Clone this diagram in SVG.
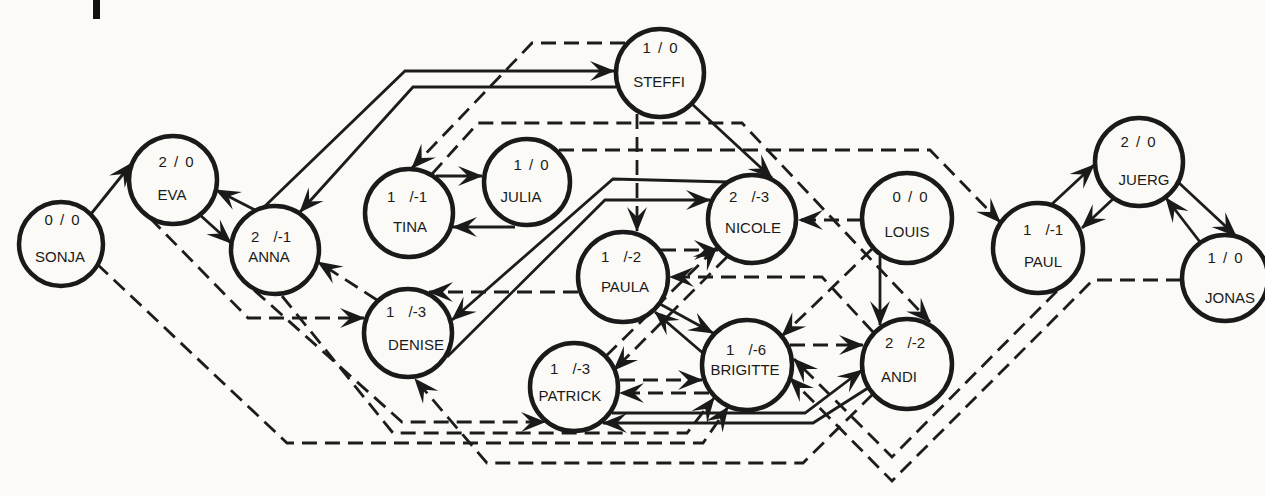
<svg xmlns="http://www.w3.org/2000/svg" width="1265" height="496" viewBox="0 0 1265 496">
<style>
.bg{fill:#fbfaf6}
.n circle{fill:#fbfaf6;stroke:#1a1a1a;stroke-width:4.5}
text{font-family:"Liberation Sans",Arial,sans-serif;font-size:15px;fill:#1a1a1a;text-anchor:middle;white-space:pre}
.v{word-spacing:3px}
.s,.d{fill:none;stroke:#1c1c1c;stroke-width:2.8;stroke-linejoin:miter;marker-end:url(#ah)}
.d{stroke-dasharray:15 8}
</style>
<defs>
<marker id="ah" viewBox="-26 -11 28 22" refX="0" refY="0" markerWidth="28" markerHeight="22" markerUnits="userSpaceOnUse" orient="auto">
<path d="M1,0 L-24,-10 L-14,0 L-24,10 Z" fill="#1a1a1a"/>
</marker>
</defs>
<rect class="bg" x="0" y="0" width="1265" height="496"/>
<rect x="93" y="0" width="7" height="19" fill="#111"/>
<g id="connectors">
<path class="s" d="M91 214 L132 163"/>
<path class="s" d="M200 215 L231 243"/>
<path class="s" d="M255 210 L216 190"/>
<path class="d" d="M97 264 L287 443 L703 443 L728 407"/>
<path class="d" d="M282 296 L393 433 L687 433 L714 398"/>
<path class="d" d="M254 290 L402 422 L545 422"/>
<path class="d" d="M150 218 L248 318 L364 318"/>
<path class="s" d="M264 207 L405 71 L614 71"/>
<path class="s" d="M616 87 L413 87 L300 212"/>
<path class="d" d="M625 43 L532 43 L412 168"/>
<path class="d" d="M432 174 L478 123 L742 123 L930 322"/>
<path class="s" d="M436 176 L482 176"/>
<path class="s" d="M515 227 L453 227"/>
<path class="d" d="M559 150 L930 150 L1000 222"/>
<path class="s" d="M692 104 L772 178"/>
<path class="d" d="M637 114 L637 231"/>
<path class="s" d="M728 182 L613 179 L452 320"/>
<path class="s" d="M447 357 L605 200 L710 200"/>
<path class="d" d="M661 250 L718 250"/>
<path class="d" d="M578 292 L429 292"/>
<path class="d" d="M377 300 L318 262"/>
<path class="d" d="M873 394 L803 463 L487 463 L415 379"/>
<path class="s" d="M612 413 L805 413 L862 370"/>
<path class="s" d="M868 388 L813 423 L603 423"/>
<path class="d" d="M620 380 L702 380"/>
<path class="d" d="M709 393 L620 393"/>
<path class="s" d="M660 304 L713 333"/>
<path class="s" d="M704 354 L655 312"/>
<path class="d" d="M727 257 L614 370"/>
<path class="d" d="M606 356 L717 247"/>
<path class="d" d="M862 220 L799 220"/>
<path class="s" d="M880 256 L880 325"/>
<path class="d" d="M872 249 L782 336"/>
<path class="d" d="M790 345 L863 345"/>
<path class="d" d="M873 332 L822 277 L670 277"/>
<path class="d" d="M1181 280 L1093 280 L892 481 L790 378"/>
<path class="d" d="M1057 291 L892 457 L794 359"/>
<path class="s" d="M1052 204 L1094 165"/>
<path class="s" d="M1113 199 L1082 228"/>
<path class="s" d="M1178 182 L1236 236"/>
<path class="s" d="M1200 242 L1166 198"/>
</g>
<g id="sonja" class="n"><circle cx="61" cy="244" r="42"/><text class="v" x="62" y="225">0 / 0</text><text x="60" y="262">SONJA</text></g>
<g id="eva" class="n"><circle cx="173" cy="180" r="44"/><text class="v" x="176" y="167">2 / 0</text><text x="172" y="200">EVA</text></g>
<g id="anna" class="n"><circle cx="275" cy="250" r="44"/><text class="v" x="271" y="242">2  /-1</text><text x="269" y="262">ANNA</text></g>
<g id="tina" class="n"><circle cx="409" cy="213" r="44"/><text class="v" x="407" y="202">1  /-1</text><text x="410" y="232">TINA</text></g>
<g id="julia" class="n"><circle cx="527" cy="182" r="43"/><text class="v" x="531" y="170">1 / 0</text><text x="521" y="202">JULIA</text></g>
<g id="steffi" class="n"><circle cx="660" cy="73" r="44"/><text class="v" x="660" y="53">1 / 0</text><text x="659" y="87">STEFFI</text></g>
<g id="denise" class="n"><circle cx="408" cy="333" r="44"/><text class="v" x="406" y="317">1  /-3</text><text x="416" y="350">DENISE</text></g>
<g id="paula" class="n"><circle cx="623" cy="277" r="45"/><text class="v" x="621" y="262">1  /-2</text><text x="625" y="292">PAULA</text></g>
<g id="nicole" class="n"><circle cx="752" cy="219" r="44"/><text class="v" x="749" y="202">2  /-3</text><text x="753" y="233">NICOLE</text></g>
<g id="louis" class="n"><circle cx="907" cy="218" r="45"/><text class="v" x="910" y="202">0 / 0</text><text x="907" y="237">LOUIS</text></g>
<g id="patrick" class="n"><circle cx="574" cy="387" r="44"/><text class="v" x="570" y="374">1  /-3</text><text x="570" y="401">PATRICK</text></g>
<g id="brigitte" class="n"><circle cx="747" cy="365" r="45"/><text class="v" x="746" y="355">1  /-6</text><text x="745" y="375">BRIGITTE</text></g>
<g id="andi" class="n"><circle cx="907" cy="364" r="45"/><text class="v" x="905" y="348">2  /-2</text><text x="899" y="382">ANDI</text></g>
<g id="paul" class="n"><circle cx="1038" cy="248" r="45"/><text class="v" x="1043" y="235">1  /-1</text><text x="1043" y="267">PAUL</text></g>
<g id="juerg" class="n"><circle cx="1139" cy="162" r="44"/><text class="v" x="1138" y="147">2 / 0</text><text x="1144" y="185">JUERG</text></g>
<g id="jonas" class="n"><circle cx="1225" cy="278" r="43"/><text class="v" x="1225" y="263">1 / 0</text><text x="1230" y="303">JONAS</text></g>
</svg>
